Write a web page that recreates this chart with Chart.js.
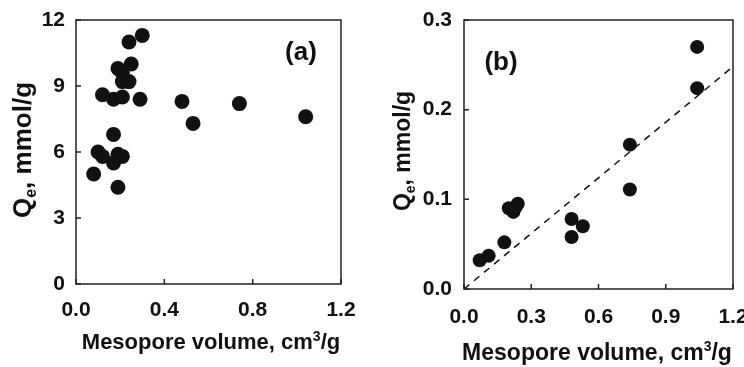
<!DOCTYPE html>
<html>
<head>
<meta charset="utf-8">
<script src="https://cdn.jsdelivr.net/npm/chart.js@4/dist/chart.umd.min.js"></script>
<style>
  body { margin: 0; background: #fff; }
  #wrap { position: relative; width: 744px; height: 367px; }
  .box { position: absolute; top: 0; width: 372px; height: 367px; }
</style>
</head>
<body>
<div id="wrap">
  <div class="box" style="left:0"><canvas id="chartA"></canvas></div>
  <div class="box" style="left:372px"><canvas id="chartB"></canvas></div>
</div>
<script>
// panel (a): Qe vs mesopore volume
const xA = [0.08, 0.10, 0.12, 0.17, 0.17, 0.19, 0.21, 0.19, 0.12, 0.17, 0.21, 0.29, 0.19, 0.21, 0.25, 0.21, 0.24, 0.24, 0.30, 0.48, 0.53, 0.74, 1.04];
const yA = [5.0, 6.0, 5.8, 5.5, 6.8, 5.9, 5.8, 4.4, 8.6, 8.4, 8.5, 8.4, 9.8, 9.6, 10.0, 9.2, 9.2, 11.0, 11.3, 8.3, 7.3, 8.2, 7.6];
const ticksXA = [0, 0.4, 0.8, 1.2];
const ticksYA = [0, 3, 6, 9, 12];

// panel (b)
const xB = [0.07, 0.11, 0.18, 0.20, 0.22, 0.24, 0.23, 0.48, 0.48, 0.53, 0.74, 0.74, 1.04, 1.04];
const yB = [0.032, 0.037, 0.052, 0.090, 0.086, 0.095, 0.091, 0.078, 0.058, 0.070, 0.161, 0.111, 0.270, 0.224];
const fitX = [0, 1.2];
const fitY = [0, 0.248];
const ticksXB = [0, 0.3, 0.6, 0.9, 1.2];
const ticksYB = [0, 0.1, 0.2, 0.3];

const FONT = '"Liberation Sans", Arial, sans-serif';
const INK = '#111';

function pts(xs, ys) {
  return xs.map((x, i) => ({ x: x, y: ys[i] }));
}

// box, inside tick marks, axis titles and panel tag
const frame = {
  id: 'frame',
  afterDatasetsDraw(chart, args, o) {
    const { ctx, chartArea: a, scales } = chart;
    ctx.save();
    ctx.strokeStyle = '#222';
    ctx.lineWidth = 1.5;
    ctx.strokeRect(a.left, a.top, a.right - a.left, a.bottom - a.top);
    ctx.beginPath();
    scales.x.ticks.forEach(t => {
      const px = scales.x.getPixelForValue(t.value);
      ctx.moveTo(px, a.bottom); ctx.lineTo(px, a.bottom - 5);
    });
    scales.y.ticks.forEach(t => {
      const py = scales.y.getPixelForValue(t.value);
      ctx.moveTo(a.left, py); ctx.lineTo(a.left + 5, py);
    });
    ctx.stroke();

    ctx.fillStyle = INK;
    ctx.textBaseline = 'alphabetic';
    ctx.textAlign = 'left';

    // x title with superscript 3
    const big = 'bold ' + o.xSize + 'px ' + FONT;
    const small = 'bold ' + Math.round(o.xSize * 0.62) + 'px ' + FONT;
    ctx.font = big;
    const p1 = 'Mesopore volume, cm', p3 = '/g';
    const w1 = ctx.measureText(p1).width, w3 = ctx.measureText(p3).width;
    ctx.font = small;
    const w2 = ctx.measureText('3').width;
    let x = o.xTitle[0] - (w1 + w2 + w3) / 2;
    ctx.font = big; ctx.fillText(p1, x, o.xTitle[1]); x += w1;
    ctx.font = small; ctx.fillText('3', x, o.xTitle[1] - o.xSize * 0.38); x += w2;
    ctx.font = big; ctx.fillText(p3, x, o.xTitle[1]);

    // y title with subscript e
    ctx.save();
    ctx.translate(o.yTitle[0], o.yTitle[1]);
    ctx.rotate(-Math.PI / 2);
    const yb = 'bold ' + o.ySize + 'px ' + FONT;
    const ys = 'bold ' + Math.round(o.ySize * 0.62) + 'px ' + FONT;
    ctx.font = yb;
    const q1 = 'Q', q3 = ', mmol/g';
    const v1 = ctx.measureText(q1).width, v3 = ctx.measureText(q3).width;
    ctx.font = ys;
    const v2 = ctx.measureText('e').width;
    let y = -(v1 + v2 + v3) / 2;
    ctx.font = yb; ctx.fillText(q1, y, 0); y += v1;
    ctx.font = ys; ctx.fillText('e', y, o.ySize * 0.2); y += v2;
    ctx.font = yb; ctx.fillText(q3, y, 0);
    ctx.restore();

    // panel tag
    ctx.font = 'bold 26px ' + FONT;
    ctx.textAlign = 'center';
    ctx.textBaseline = 'middle';
    ctx.fillText(o.tag, o.tagPos[0], o.tagPos[1]);
    ctx.restore();
  }
};

function makeScale(min, max, tickVals, digits, pad, fit) {
  return {
    type: 'linear',
    min: min,
    max: max,
    afterBuildTicks: s => { s.ticks = tickVals.map(v => ({ value: v })); },
    afterFit: s => {
      fit(s);
      s.paddingLeft = 0; s.paddingRight = 0; s.paddingTop = 0; s.paddingBottom = 0;
    },
    grid: { display: false, drawTicks: false },
    border: { display: false },
    ticks: {
      color: INK,
      padding: pad,
      maxRotation: 0,
      autoSkip: false,
      font: { family: FONT, size: 21, weight: 'bold' },
      callback: v => digits === 0 ? String(v) : Number(v).toFixed(digits)
    }
  };
}

const dotStyle = r => ({
  backgroundColor: INK,
  borderWidth: 0,
  pointRadius: r,
  pointHoverRadius: r
});

new Chart(document.getElementById('chartA'), {
  type: 'scatter',
  data: {
    datasets: [Object.assign({ data: pts(xA, yA) }, dotStyle(7.5))]
  },
  options: {
    responsive: true,
    maintainAspectRatio: false,
    animation: false,
    layout: { padding: { left: 0, top: 20, right: 31, bottom: 0 } },
    scales: {
      x: makeScale(0, 1.2, ticksXA, 1, 14, s => { s.height = 83; }),
      y: makeScale(0, 12, ticksYA, 0, 11, s => { s.width = 76; })
    },
    plugins: {
      legend: { display: false },
      tooltip: { enabled: false },
      frame: {
        tag: '(a)', tagPos: [301, 53],
        xTitle: [211, 349], xSize: 22,
        yTitle: [31, 150], ySize: 26
      }
    }
  },
  plugins: [frame]
});

new Chart(document.getElementById('chartB'), {
  type: 'scatter',
  data: {
    datasets: [
      Object.assign({ data: pts(xB, yB) }, dotStyle(7)),
      {
        type: 'line',
        data: pts(fitX, fitY),
        borderColor: INK,
        borderWidth: 1.5,
        borderDash: [7, 6],
        pointRadius: 0,
        fill: false
      }
    ]
  },
  options: {
    responsive: true,
    maintainAspectRatio: false,
    animation: false,
    layout: { padding: { left: 0, top: 20, right: 11, bottom: 0 } },
    scales: {
      x: makeScale(0, 1.2, ticksXB, 1, 16, s => { s.height = 78; }),
      y: makeScale(0, 0.3, ticksYB, 1, 12, s => { s.width = 92; })
    },
    plugins: {
      legend: { display: false },
      tooltip: { enabled: false },
      frame: {
        tag: '(b)', tagPos: [129, 63],
        xTitle: [225, 360], xSize: 23,
        yTitle: [38, 151], ySize: 23
      }
    }
  },
  plugins: [frame]
});
</script>
</body>
</html>
